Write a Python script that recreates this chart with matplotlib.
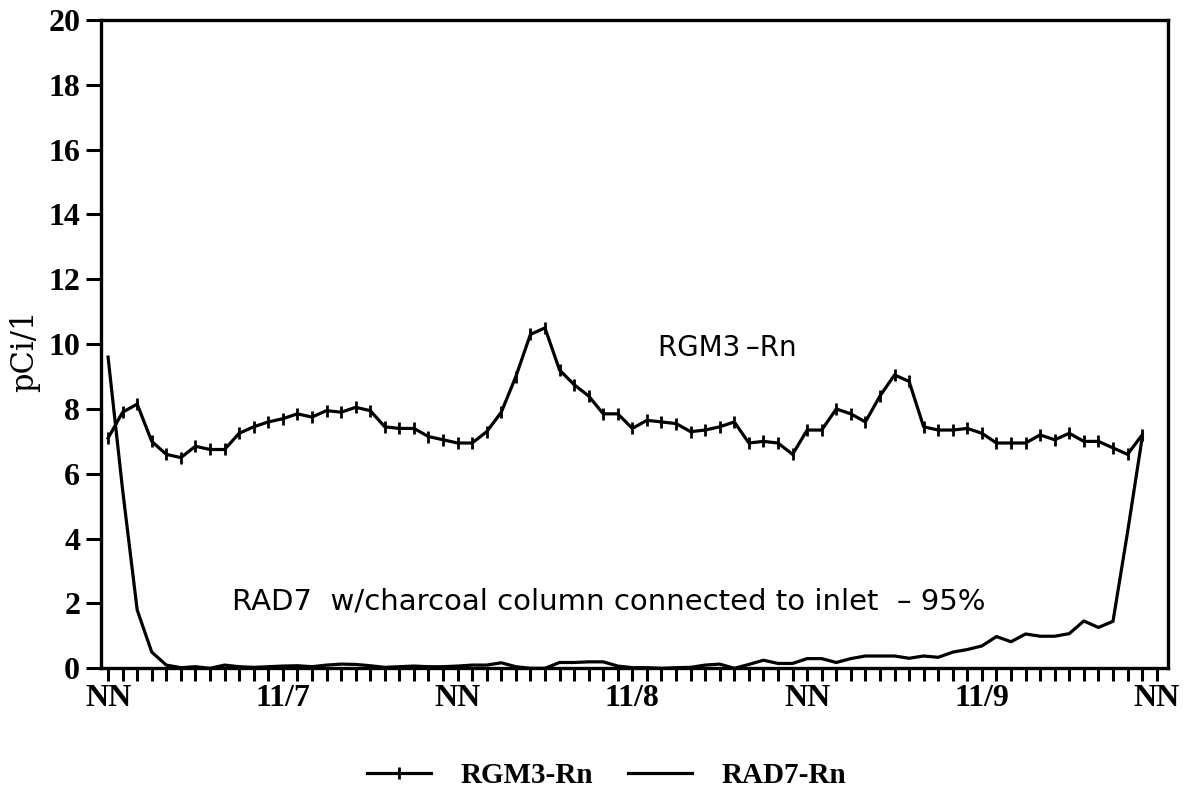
import numpy as np
import matplotlib
matplotlib.use('Agg')
import matplotlib.pyplot as plt
from matplotlib.font_manager import FontProperties
from matplotlib.ticker import MultipleLocator, FixedFormatter, FixedLocator

# hourly readings, hour 0 = noon 11/6
hours = np.arange(72)
rgm3 = [7.1, 7.9, 8.15, 7.0, 6.6, 6.5, 6.85, 6.75, 6.75, 7.25, 7.45, 7.6,
        7.7, 7.85, 7.75, 7.95, 7.9, 8.05, 7.95, 7.45, 7.4, 7.4, 7.15, 7.05,
        6.95, 6.95, 7.3, 7.9, 9.0, 10.3, 10.5, 9.2, 8.75, 8.4, 7.85, 7.85,
        7.4, 7.65, 7.6, 7.55, 7.3, 7.35, 7.45, 7.6, 6.95, 7.0, 6.95, 6.6,
        7.35, 7.35, 8.0, 7.85, 7.6, 8.4, 9.05, 8.85, 7.45, 7.35, 7.35, 7.4,
        7.25, 6.95, 6.95, 6.95, 7.2, 7.05, 7.25, 7.0, 7.0, 6.8, 6.6, 7.2]
rad7 = [9.6, 5.5, 1.8, 0.5, 0.1, 0.02, 0.05, 0.0, 0.1, 0.05, 0.03, 0.05,
        0.07, 0.08, 0.05, 0.1, 0.13, 0.12, 0.08, 0.03, 0.05, 0.07, 0.05, 0.05,
        0.07, 0.1, 0.1, 0.17, 0.05, 0.0, 0.0, 0.18, 0.18, 0.2, 0.2, 0.07,
        0.02, 0.02, 0.0, 0.02, 0.03, 0.1, 0.13, 0.0, 0.12, 0.25, 0.15, 0.15,
        0.3, 0.3, 0.18, 0.3, 0.38, 0.38, 0.38, 0.31, 0.38, 0.34, 0.5, 0.58,
        0.69, 0.98, 0.82, 1.06, 0.99, 0.99, 1.07, 1.46, 1.26, 1.45, 4.2, 7.1]
tick_hours = [0, 12, 24, 36, 48, 60, 72]
tick_labels = ['NN', '11/7', 'NN', '11/8', 'NN', '11/9', 'NN']

fig = plt.figure(figsize=(11.89, 7.98), dpi=100)
ax = fig.add_axes([0.085, 0.1625, 0.897, 0.8125])

ax.plot(hours, rgm3, color='black', lw=2.3, marker='|', ms=8, mew=2.0,
        label='RGM3-Rn')
ax.plot(hours, rad7, color='black', lw=2.3, label='RAD7-Rn')

ax.set_xlim(-0.48, 72.75)
ax.set_ylim(0, 20)
ax.xaxis.set_major_locator(FixedLocator(tick_hours))
ax.xaxis.set_major_formatter(FixedFormatter(tick_labels))
ax.xaxis.set_minor_locator(MultipleLocator(1))
ax.yaxis.set_major_locator(MultipleLocator(2))

tickfont = FontProperties(family='Liberation Serif', weight='bold', size=23)
for lab in ax.get_xticklabels() + ax.get_yticklabels():
    lab.set_fontproperties(tickfont)
ax.tick_params(axis='x', which='both', direction='out', length=9, width=2.2, pad=2)
ax.tick_params(axis='y', which='major', direction='out', length=11, width=2.2, pad=4)
for s in ax.spines.values():
    s.set_linewidth(2.4)

ax.set_ylabel('pCi/1', family='DejaVu Serif', fontsize=22)
ax.yaxis.set_label_coords(-0.057, 0.49)

ax.text(42.55, 9.87, 'RGM3\u2009\u2013Rn', family='DejaVu Sans', fontsize=20,
        ha='center', va='center')
ax.text(8.5, 2.06, 'RAD7  w/charcoal column connected to inlet  \u2013 95%',
        family='DejaVu Sans', fontsize=21, ha='left', va='center')

fig.legend(loc='center', bbox_to_anchor=(0.51, 0.028), ncol=2, frameon=False,
           prop=dict(family='Liberation Serif', weight='bold', size=21),
           handlelength=2.2, handletextpad=1.0, columnspacing=1.2)

fig.savefig('out.png', dpi=100)
